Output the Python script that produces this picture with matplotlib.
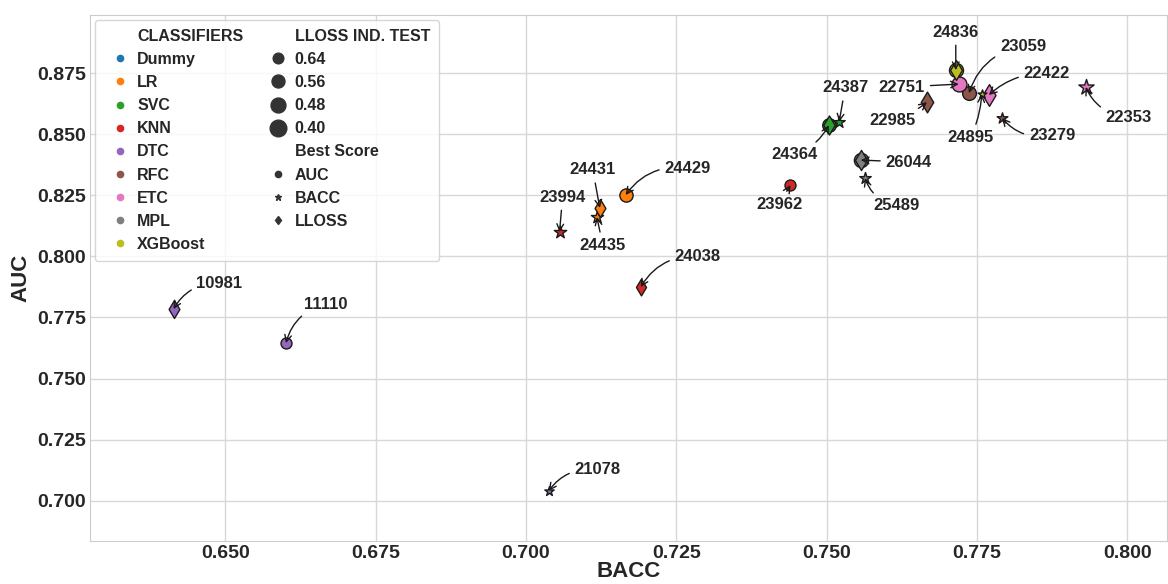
import matplotlib
matplotlib.use("Agg")
import matplotlib.pyplot as plt
from matplotlib.lines import Line2D

plt.rcParams["font.family"] = ["Liberation Sans", "DejaVu Sans"]
plt.rcParams["font.weight"] = "bold"
plt.rcParams["text.color"] = "#262626"
plt.rcParams["axes.labelcolor"] = "#262626"
plt.rcParams["xtick.color"] = "#262626"
plt.rcParams["ytick.color"] = "#262626"

# best models per classifier (one row per metric they won)
classifiers = ["Dummy", "LR", "SVC", "KNN", "DTC", "RFC", "ETC", "MPL", "XGBoost"]
clf_colors = ["#1f77b4", "#ff7f0e", "#2ca02c", "#d62728", "#9467bd",
              "#8c564b", "#e377c2", "#7f7f7f", "#bcbd22"]

clf = ["LR", "LR", "LR",
       "SVC", "SVC", "SVC",
       "KNN", "KNN", "KNN",
       "DTC", "DTC", "DTC",
       "RFC", "RFC", "RFC",
       "ETC", "ETC", "ETC",
       "MPL", "MPL", "MPL",
       "XGBoost", "XGBoost", "XGBoost"]
best = ["AUC", "BACC", "LLOSS"] * 8
model_id = ["24429", "24435", "24431",
            "24364", "24387", "24364",
            "23962", "23994", "24038",
            "11110", "21078", "10981",
            "23059", "23279", "22985",
            "22751", "22353", "22422",
            "26044", "25489", "26044",
            "24836", "24895", "24836"]
bacc = [0.7166, 0.7118, 0.7123,
        0.7504, 0.7521, 0.7504,
        0.7440, 0.7056, 0.7191,
        0.6601, 0.7038, 0.6414,
        0.7737, 0.7792, 0.7667,
        0.7720, 0.7931, 0.7770,
        0.7557, 0.7564, 0.7557,
        0.7715, 0.7758, 0.7715]
auc = [0.8251, 0.8161, 0.8198,
       0.8537, 0.8550, 0.8537,
       0.8292, 0.8099, 0.7874,
       0.7645, 0.7040, 0.7784,
       0.8668, 0.8566, 0.8631,
       0.8705, 0.8693, 0.8660,
       0.8394, 0.8320, 0.8394,
       0.8762, 0.8664, 0.8762]
lloss = [0.55, 0.57, 0.57,
         0.54, 0.595, 0.54,
         0.63, 0.56, 0.60,
         0.63, 0.665, 0.57,
         0.53, 0.62, 0.49,
         0.48, 0.43, 0.46,
         0.51, 0.595, 0.51,
         0.52, 0.68, 0.52]

size_levels = [0.64, 0.56, 0.48, 0.40]
metrics = ["AUC", "BACC", "LLOSS"]
metric_markers = {"AUC": "o", "BACC": "*", "LLOSS": "d"}

# label placement: offset of the text (pixels) and arrow curvature
label_pos = {
    "10981": (46, 26, 0.3), "11110": (40, 39, 0.3), "21078": (49, 21, 0.3),
    "23994": (3, 35, 0.0), "24431": (-7, 38, 0.0), "24435": (6, -28, 0.0),
    "24429": (62, 27, 0.3), "24038": (57, 31, 0.3), "23962": (-11, -19, 0.0),
    "24364": (-34, -29, 0.2), "24387": (6, 34, 0.0), "26044": (48, -2, 0.0),
    "25489": (32, -27, -0.3), "22985": (-34, -18, 0.1), "24836": (0, 38, 0.0),
    "22751": (-57, -3, 0.0), "23059": (54, 47, 0.3), "24895": (-11, -43, 0.1),
    "22422": (58, 22, 0.2), "23279": (50, -17, -0.3), "22353": (43, -30, -0.3),
}


def marker_area(v):
    return 144 + (0.40 - v) * 354


color_of = dict(zip(classifiers, clf_colors))

fig = plt.figure(figsize=(11.68, 5.84), dpi=100)
ax = fig.add_axes([0.077, 0.074, 0.922, 0.9])
ax.set_axisbelow(True)
ax.grid(True, color="#d8d8d8", linewidth=1)
for sp in ax.spines.values():
    sp.set_color("#cccccc")

for i in range(len(clf)):
    ax.scatter(bacc[i], auc[i], s=marker_area(lloss[i]), c=color_of[clf[i]],
               marker=metric_markers[best[i]], edgecolors="#1a1a1a",
               linewidths=1, zorder=3)

done = set()
for i in range(len(clf)):
    mid = model_id[i]
    if mid in done:
        continue
    done.add(mid)
    dx, dy, rad = label_pos[mid]
    ax.annotate(mid, xy=(bacc[i], auc[i]), xytext=(dx, dy),
                textcoords="offset pixels", ha="center", va="center",
                fontsize=12, fontweight="bold", color="#262626", zorder=4,
                arrowprops=dict(arrowstyle="->", color="#1a1a1a", lw=1,
                                shrinkA=2, shrinkB=0, mutation_scale=12,
                                connectionstyle=f"arc3,rad={rad}"))

ax.set_xlim(0.6275, 0.8066)
ax.set_ylim(0.6836, 0.8987)
ax.set_xticks([0.650, 0.675, 0.700, 0.725, 0.750, 0.775, 0.800])
ax.set_yticks([0.700, 0.725, 0.750, 0.775, 0.800, 0.825, 0.850, 0.875])
ax.set_xticklabels([f"{t:.3f}" for t in ax.get_xticks()])
ax.set_yticklabels([f"{t:.3f}" for t in ax.get_yticks()])
ax.tick_params(axis="both", length=0, labelsize=14, pad=3)
ax.set_xlabel("BACC", fontsize=16, fontweight="bold", labelpad=-1)
ax.set_ylabel("AUC", fontsize=16, fontweight="bold", labelpad=4)

# legend: classifier colours, lloss sizes, best-score markers
blank = Line2D([], [], linestyle="none", marker="")
handles = [blank]
labels = ["CLASSIFIERS"]
for name, col in zip(classifiers, clf_colors):
    handles.append(Line2D([], [], linestyle="none", marker="o", markersize=4.5,
                          markerfacecolor=col, markeredgecolor=col))
    labels.append(name)
handles.append(blank)
labels.append("LLOSS IND. TEST")
for v in size_levels:
    handles.append(Line2D([], [], linestyle="none", marker="o",
                          markersize=marker_area(v) ** 0.5,
                          markerfacecolor="#333333", markeredgecolor="#333333"))
    labels.append(f"{v:.2f}")
handles.append(blank)
labels.append("Best Score")
for m in metrics:
    handles.append(Line2D([], [], linestyle="none", marker=metric_markers[m],
                          markersize=4.5, markerfacecolor="#333333",
                          markeredgecolor="#333333"))
    labels.append(m)

leg = ax.legend(handles, labels, ncol=2, loc="upper left",
                prop={"size": 11.5, "weight": "bold"}, labelspacing=0.51,
                handlelength=2.1, handletextpad=0.0, borderpad=0.55,
                columnspacing=1.12, borderaxespad=0.3,
                framealpha=0.8, edgecolor="#cccccc", fancybox=True)

fig.savefig("out.png", dpi=100)
